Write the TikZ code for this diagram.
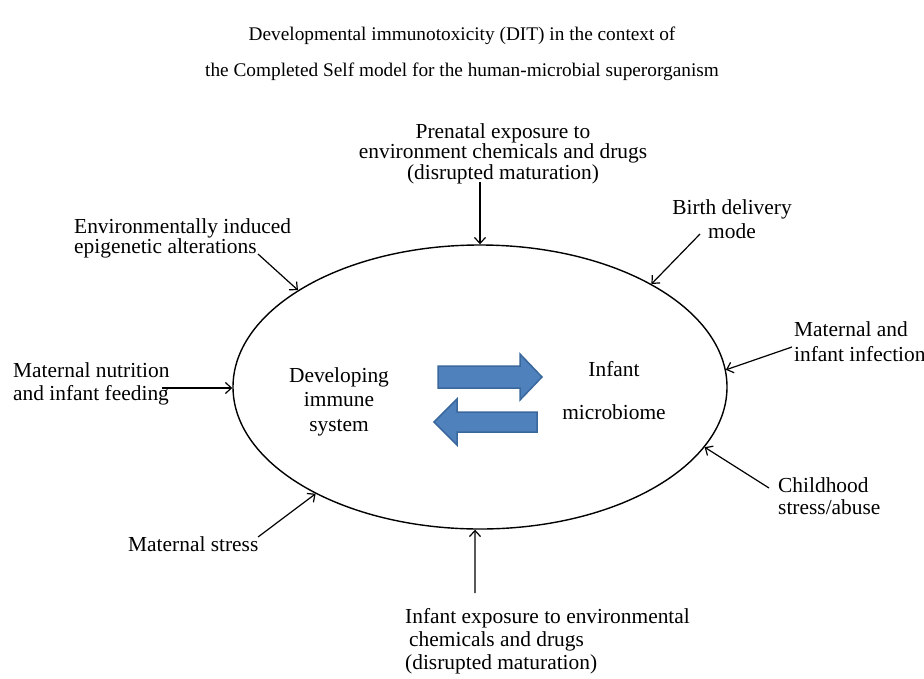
\documentclass[tikz,border=0pt]{standalone}
\usepackage{fontspec}
\setmainfont{Liberation Serif}
\usetikzlibrary{arrows.meta,shapes.geometric}
\definecolor{arrowblue}{HTML}{4F81BD}
\definecolor{arrowedge}{HTML}{3A679C}
\begin{document}
\begin{tikzpicture}[x=1pt,y=-1pt,
  lbl/.style={inner sep=0pt},
  conn/.style={line width=1.2pt, -{Straight Barb[length=6pt,width=11pt]}},
  bluearrow/.style={fill=arrowblue, draw=arrowedge, line width=1.5pt, line join=miter}]
\useasboundingbox (0,0) rectangle (924,678);

% title
\node[lbl, anchor=base] (title1) at (462,40) {\fontsize{19.3}{19}\selectfont Developmental immunotoxicity (DIT) in the context of};
\node[lbl, anchor=base] (title2) at (462,76) {\fontsize{19.3}{19}\selectfont the Completed Self model for the human-microbial superorganism};

% central ellipse
\node[draw, ellipse, line width=1.4pt, minimum width=494pt, minimum height=284pt, inner sep=0pt] (E) at (480,387) {};

% labels
\node[lbl, anchor=base] (prenatal) at (503,138) {\fontsize{21.4}{19}\selectfont\begin{tabular}[t]{@{}c@{}}Prenatal exposure to\\environment chemicals and drugs\\(disrupted maturation)\end{tabular}};
\node[lbl, anchor=base] (birth) at (732,214) {\fontsize{21.4}{24}\selectfont\begin{tabular}[t]{@{}c@{}}Birth delivery\\mode\end{tabular}};
\node[lbl, anchor=base west] (env) at (74,233) {\fontsize{21.4}{19.5}\selectfont\begin{tabular}[t]{@{}l@{}}Environmentally induced\\epigenetic alterations\end{tabular}};
\node[lbl, anchor=base west] (infect) at (794,336) {\fontsize{21.4}{25}\selectfont\begin{tabular}[t]{@{}l@{}}Maternal and\\infant infection\end{tabular}};
\node[lbl, anchor=base west] (nutr) at (13,377) {\fontsize{21.4}{23.5}\selectfont\begin{tabular}[t]{@{}l@{}}Maternal nutrition\\and infant feeding\end{tabular}};
\node[lbl, anchor=base] (dev) at (339,382) {\fontsize{21.4}{24.5}\selectfont\begin{tabular}[t]{@{}c@{}}Developing\\immune\\system\end{tabular}};
\node[lbl, anchor=base] (micro) at (614,376) {\fontsize{21.4}{43}\selectfont\begin{tabular}[t]{@{}c@{}}Infant\\microbiome\end{tabular}};
\node[lbl, anchor=base west] (child) at (778,492) {\fontsize{21.4}{22}\selectfont\begin{tabular}[t]{@{}l@{}}Childhood\\stress/abuse\end{tabular}};
\node[lbl, anchor=base west] (mstress) at (128,551) {\fontsize{21.4}{21}\selectfont Maternal stress};
\node[lbl, anchor=base west] (infexp) at (405,623) {\fontsize{21.4}{23}\selectfont\begin{tabular}[t]{@{}l@{}}Infant exposure to environmental\\\hspace{4pt}chemicals and drugs\\(disrupted maturation)\end{tabular}};

% blue exchange arrows
\filldraw[bluearrow] (438,366) -- (520,366) -- (520,354) -- (542,377) -- (520,400) -- (520,388) -- (438,388) -- cycle;
\filldraw[bluearrow] (537,412) -- (457,412) -- (457,399) -- (434,422) -- (457,445) -- (457,432) -- (537,432) -- cycle;

% connector tails
\coordinate (t-pre) at (480,182);
\coordinate (t-env) at (258,254);
\coordinate (t-birth) at (700,234);
\coordinate (t-inf) at (792,347);
\coordinate (t-nut) at (162,388);
\coordinate (t-child) at (769,488);
\coordinate (t-ms) at (258,537);
\coordinate (t-bot) at (475,593);

\draw[conn] (t-pre) -- (E.90);
\draw[conn] (t-env) -- (E.152);
\draw[conn] (t-birth) -- (E.31);
\draw[conn] (t-inf) -- (E.4);
\draw[conn] (t-nut) -- (t-nut -| E.west);
\draw[conn] (t-child) -- (E.-15);
\draw[conn] (t-ms) -- (E.213);
\draw[conn] (t-bot) -- (E.268);
\end{tikzpicture}
\end{document}
